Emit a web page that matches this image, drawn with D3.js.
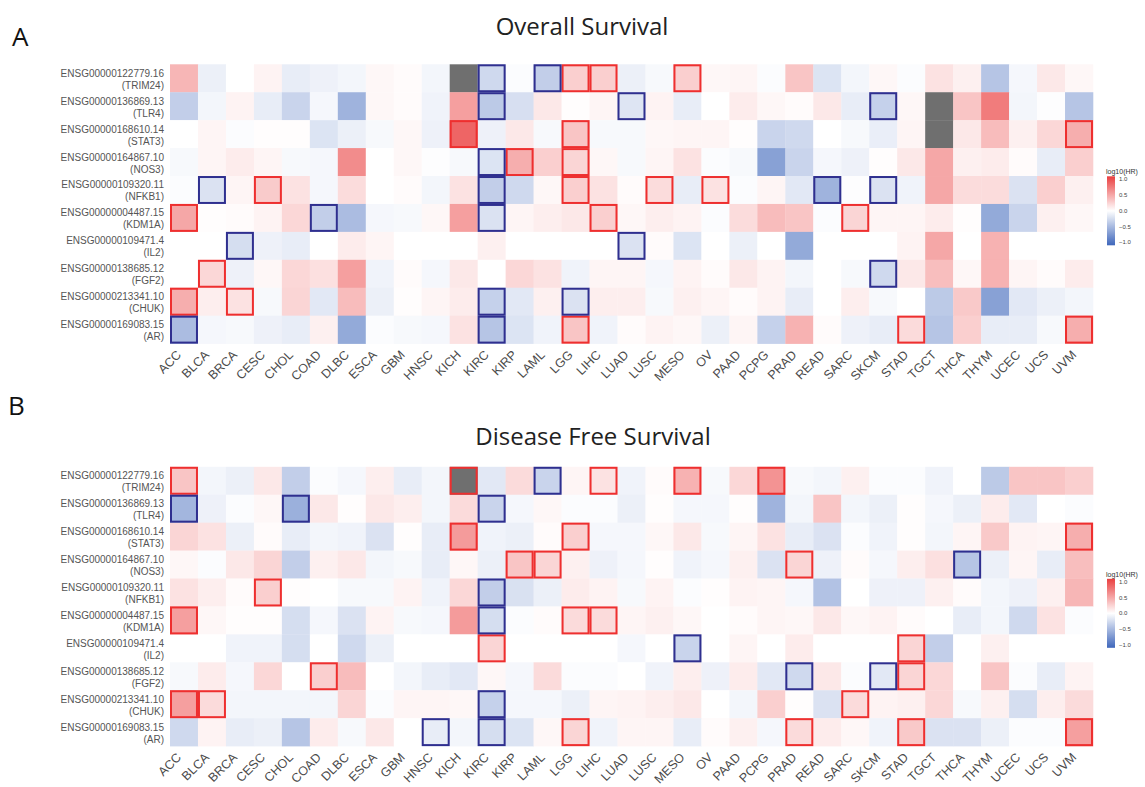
<!DOCTYPE html>
<html><head><meta charset="utf-8">
<script src="https://cdn.jsdelivr.net/npm/d3@7"></script>
<style>body{margin:0;background:#fff}</style>
</head><body><svg id="c" width="1145" height="787"></svg>
<script>
const cancers = ["ACC","BLCA","BRCA","CESC","CHOL","COAD","DLBC","ESCA","GBM","HNSC","KICH","KIRC","KIRP","LAML","LGG","LIHC","LUAD","LUSC","MESO","OV","PAAD","PCPG","PRAD","READ","SARC","SKCM","STAD","TGCT","THCA","THYM","UCEC","UCS","UVM"];
const ensemblIds = ["ENSG00000122779.16","ENSG00000136869.13","ENSG00000168610.14","ENSG00000164867.10","ENSG00000109320.11","ENSG00000004487.15","ENSG00000109471.4","ENSG00000138685.12","ENSG00000213341.10","ENSG00000169083.15"];
const geneSymbols = ["TRIM24","TLR4","STAT3","NOS3","NFKB1","KDM1A","IL2","FGF2","CHUK","AR"];

// log10(HR), Overall Survival (rows = genes, columns = cancers); null = NA
const osValues = [
 [0.38,-0.1,0,0.06,-0.12,-0.09,-0.06,0.04,0.02,-0.06,null,-0.25,-0.02,-0.32,0.25,0.25,-0.1,-0.04,0.25,0.04,0.05,-0.02,0.3,-0.18,-0.06,0.04,-0.02,0.15,0.08,-0.38,-0.05,0.12,0.04],
 [-0.32,-0.06,0.06,-0.12,-0.28,-0.05,-0.5,0.04,0.02,-0.08,0.5,-0.35,-0.21,0.12,0.01,0.05,-0.17,0.06,-0.12,0,0.1,0.04,0.02,0.12,-0.12,-0.3,0.04,null,0.3,0.68,-0.06,-0.01,-0.38],
 [0,0.05,-0.02,0.01,0.01,-0.18,-0.1,-0.04,0.04,-0.09,0.8,-0.09,0.12,-0.04,0.3,-0.04,-0.04,0.04,0.05,0.05,0.01,-0.28,-0.25,0,-0.04,-0.11,0.05,null,0.12,0.35,0.08,0.21,0.42],
 [-0.04,0.05,0.1,0.05,-0.04,-0.05,0.6,0,0.04,-0.01,-0.04,-0.18,0.42,0.25,0.22,0.04,-0.04,0.05,0.15,-0.02,-0.04,-0.62,-0.28,-0.05,-0.09,0.01,0.12,0.46,0.08,0.1,0.02,-0.12,0.25],
 [-0.02,-0.19,0.05,0.27,0.15,-0.05,0.18,0,0.02,-0.06,0.15,-0.32,-0.25,0.04,0.25,0.15,0.02,0.18,-0.12,0.15,-0.02,0.05,-0.15,-0.5,-0.01,-0.19,-0.08,0.46,0.18,0.18,-0.19,0.25,0.08],
 [0.46,0.01,0.02,0.06,0.21,-0.32,-0.44,-0.05,-0.04,0.04,0.5,-0.19,0.05,0.09,0.12,0.25,0.04,0.09,0.06,-0.02,0.18,0.35,0.3,-0.02,0.22,0.05,0.05,0.1,0.01,-0.56,-0.28,0.08,0.04],
 [0,0,-0.22,-0.09,-0.12,0,0.1,0.05,0,0,0,0.08,0,0,0,0,-0.19,0.02,-0.18,0,-0.1,0,-0.56,0,0,0,0.06,0.46,0,0.4,0,0,0],
 [0,0.21,-0.09,0.04,0.21,0.16,0.5,-0.08,0.02,-0.05,0.12,0,0.21,0.15,-0.08,0.05,0.05,-0.05,0.06,0.02,0.12,0.06,-0.06,0,-0.04,-0.25,0.12,0.34,0.04,0.4,0.05,0.02,0.1],
 [0.42,0.09,0.15,-0.04,0.22,-0.15,0.35,-0.1,0.01,0.05,0.1,-0.3,-0.15,0.08,-0.19,0.09,0.09,-0.04,0.08,0.05,0.02,0.06,-0.12,0,0.09,-0.04,0,-0.35,0.28,-0.62,-0.15,-0.1,-0.06],
 [-0.44,-0.05,-0.04,-0.09,-0.12,0.08,-0.56,-0.02,-0.04,-0.05,0.15,-0.38,-0.18,-0.08,0.3,-0.08,0.02,0.06,0.04,-0.1,0.05,-0.3,0.4,0.02,-0.09,-0.12,0.19,-0.38,0.25,-0.12,-0.12,-0.04,0.42]
];
// log10(HR), Disease Free Survival
const dfsValues = [
 [0.3,-0.06,-0.1,0.12,-0.32,-0.02,-0.05,0.09,-0.12,-0.06,null,-0.15,0.19,-0.28,0.05,0.15,-0.08,0.02,0.4,-0.04,0.21,0.56,-0.04,-0.06,0.08,-0.02,-0.02,-0.08,0,-0.35,0.3,0.3,0.25],
 [-0.48,-0.09,-0.02,0.04,-0.52,0.12,0.01,0.12,0.09,-0.06,0.19,-0.28,-0.05,0.04,-0.02,-0.02,-0.1,0.01,-0.05,-0.05,0.01,-0.5,-0.06,0.3,-0.06,-0.1,0.01,-0.05,-0.1,0.1,-0.15,0,-0.02],
 [0.22,0.15,-0.1,0.02,-0.12,-0.06,-0.08,-0.19,0.01,-0.12,0.52,-0.08,-0.1,0.02,0.25,-0.05,-0.05,0.04,0.12,-0.04,0.05,0.15,-0.12,-0.19,-0.02,-0.08,0.01,-0.06,0.05,0.28,0.06,0.05,0.42],
 [0.04,-0.02,0.12,0.22,-0.32,0.08,0.12,-0.06,-0.04,-0.12,0.04,-0.1,0.3,0.22,0.08,-0.09,-0.05,0.01,-0.08,-0.05,0.08,-0.19,0.22,-0.09,0.02,-0.05,0.09,0.16,-0.38,-0.1,0.05,-0.12,0.34],
 [0.15,0.09,0.02,0.25,0.01,0,-0.04,-0.04,0.06,-0.08,0.21,-0.32,-0.2,-0.1,0.1,0.06,-0.04,0.06,-0.02,0.01,0.06,0.05,-0.05,-0.4,0,-0.09,-0.09,0.08,0.02,-0.06,-0.09,0.08,0.38],
 [0.5,0.04,0.01,0.01,-0.22,-0.05,-0.19,0.06,-0.04,-0.05,0.52,-0.22,-0.02,0.02,0.19,0.19,0.05,0.08,0.04,0,0.02,0.05,0.04,0.12,0.04,0.06,0.02,0,-0.12,-0.06,-0.25,0.15,-0.02],
 [0,0,-0.08,-0.08,-0.22,0,-0.25,-0.1,0,0,0,0.22,0,0,0,0,-0.05,0,-0.28,0,0.05,0,0.1,0,0,0,0.22,-0.32,0,0.08,0,0,0],
 [-0.04,0.1,-0.05,0.21,0,0.25,0.35,0,-0.06,-0.12,-0.15,0.04,-0.05,0.19,-0.02,-0.02,0,-0.08,0.09,-0.09,0.1,-0.15,-0.25,0.12,-0.02,-0.15,0.22,0.21,0,0.3,-0.02,-0.12,0.06],
 [0.5,0.19,-0.06,-0.06,-0.06,-0.06,0.22,-0.02,0.05,0.05,0.04,-0.3,-0.05,-0.05,-0.1,0.05,0.06,0.09,0.12,0,-0.06,0.25,0.01,-0.19,0.19,0.06,0.08,0.21,-0.04,0.08,-0.22,0.09,0.19],
 [-0.25,0.06,-0.12,-0.1,-0.38,0.1,-0.04,0.12,0,-0.12,-0.06,-0.22,-0.18,0.04,0.22,-0.08,0.05,0.05,-0.12,0.02,0.08,-0.05,0.19,0.1,0.04,-0.08,0.28,-0.19,-0.19,-0.1,-0.02,-0.02,0.5]
];

// significant cells (p < 0.05): HR > 1 (red frame) and HR < 1 (blue frame), per gene row
const osSigUp = [["LGG","LIHC","MESO"],[],["KICH","LGG","UVM"],["KIRP","LGG"],["CESC","LGG","LUSC","OV"],["ACC","LIHC","SARC"],[],["BLCA"],["ACC","BRCA"],["LGG","STAD","UVM"]];
const osSigDown = [["KIRC","LAML"],["KIRC","LUAD","SKCM"],[],["KIRC"],["BLCA","KIRC","READ","SKCM"],["COAD","KIRC"],["BRCA","LUAD"],["SKCM"],["KIRC","LGG"],["ACC","KIRC"]];
const dfsSigUp = [["ACC","KICH","LIHC","MESO","PCPG"],[],["KICH","LGG","UVM"],["KIRP","LAML","PRAD"],["CESC"],["ACC","LGG","LIHC"],["KIRC","STAD"],["COAD","STAD"],["ACC","BLCA","SARC"],["LGG","PRAD","STAD","UVM"]];
const dfsSigDown = [["LAML"],["ACC","CHOL","KIRC"],[],["THCA"],["KIRC"],["KIRC"],["MESO"],["PRAD","SKCM"],["KIRC"],["HNSC","KIRC"]];

const legendTicks = [1.0, 0.5, 0.0, -0.5, -1.0];

const svg = d3.select("#c");
const color = d3.scaleLinear().domain([-1,0,1]).range(["#3f67bb","#ffffff","#ea3f3f"]).clamp(true);
const naColor = "#6f6f6f";
const x = d3.scaleBand().domain(cancers).range([170, 1093]).padding(0);

// legend gradient
const defs = svg.append("defs");
const grad = defs.append("linearGradient").attr("id","lg").attr("x1",0).attr("x2",0).attr("y1",0).attr("y2",1);
d3.range(0, 1.0001, 0.1).forEach(t => {
  grad.append("stop").attr("offset", t).attr("stop-color", color(1 - 2*t));
});

function panel(values, sigUp, sigDown, top, title, titleX, titleY, letter, letterX, letterY) {
  const y = d3.scaleBand().domain(geneSymbols).range([top, top + 279.3]).padding(0);
  const g = svg.append("g");
  const cells = [];
  values.forEach((row, i) => row.forEach((v, j) => cells.push({gene: geneSymbols[i], cancer: cancers[j], v})));
  g.selectAll("rect.cell").data(cells).join("rect").attr("class","cell")
    .attr("x", d => x(d.cancer)).attr("y", d => y(d.gene))
    .attr("width", x.bandwidth() + 0.3).attr("height", y.bandwidth() + 0.3)
    .attr("fill", d => d.v === null ? naColor : color(d.v));
  const frames = [];
  sigUp.forEach((arr, i) => arr.forEach(c => frames.push({gene: geneSymbols[i], cancer: c, col: "#ee2f2f"})));
  sigDown.forEach((arr, i) => arr.forEach(c => frames.push({gene: geneSymbols[i], cancer: c, col: "#2f2f8f"})));
  g.selectAll("rect.frame").data(frames).join("rect").attr("class","frame")
    .attr("x", d => x(d.cancer) + 1).attr("y", d => y(d.gene) + 1)
    .attr("width", x.bandwidth() - 2).attr("height", y.bandwidth() - 2)
    .attr("fill","none").attr("stroke", d => d.col).attr("stroke-width", 2);

  // row labels
  const rl = g.selectAll("g.rl").data(geneSymbols).join("g")
    .attr("transform", d => `translate(164,${y(d) + y.bandwidth()/2})`);
  rl.append("text").attr("text-anchor","end").attr("y", -1.5)
    .attr("font-family","Liberation Sans, Arial, sans-serif").attr("font-size", 10).attr("fill","#555")
    .text((d,i) => ensemblIds[i]);
  rl.append("text").attr("text-anchor","end").attr("y", 10.5)
    .attr("font-family","Liberation Sans, Arial, sans-serif").attr("font-size", 10).attr("fill","#555")
    .text(d => "(" + d + ")");

  // column labels
  const bottom = top + 279.3;
  g.selectAll("text.cl").data(cancers).join("text").attr("class","cl")
    .attr("text-anchor","end")
    .attr("transform", d => `translate(${x(d) + x.bandwidth()/2 - 2},${bottom + 12}) rotate(-45)`)
    .attr("font-family","Liberation Sans, Arial, sans-serif").attr("font-size", 12.5).attr("fill","#4a4a4a")
    .text(d => d);

  // title and panel letter
  svg.append("text").attr("x", titleX).attr("y", titleY).attr("text-anchor","middle")
    .attr("font-family","Open Sans, sans-serif").attr("font-size", 24).attr("fill","#222").text(title);
  svg.append("text").attr("x", letterX).attr("y", letterY)
    .attr("font-family","Open Sans, sans-serif").attr("font-size", 26).attr("fill","#111").text(letter);

  // legend
  const ly = top + 112;
  const lscale = d3.scaleLinear().domain([1,-1]).range([ly + 3, ly + 66]);
  svg.append("text").attr("x", 1106).attr("y", ly - 2).attr("font-family","Liberation Sans, Arial, sans-serif")
    .attr("font-size", 7).attr("fill","#333").text("log10(HR)");
  svg.append("rect").attr("x", 1107).attr("y", ly).attr("width", 8).attr("height", 69).attr("fill","url(#lg)");
  svg.selectAll(null).data(legendTicks).join("text")
    .attr("x", 1119).attr("y", d => lscale(d) + 2)
    .attr("font-family","Liberation Sans, Arial, sans-serif").attr("font-size", 6).attr("fill","#444")
    .text(d => d3.format(".1f")(d));
}

panel(osValues, osSigUp, osSigDown, 64.3, "Overall Survival", 582, 35, "A", 12, 46);
panel(dfsValues, dfsSigUp, dfsSigDown, 466.8, "Disease Free Survival", 593, 445, "B", 8, 415);
</script></body></html>
